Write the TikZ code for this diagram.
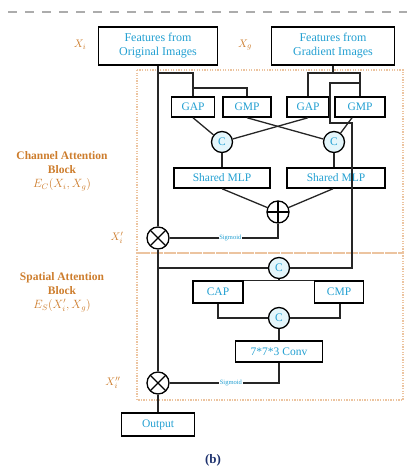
\documentclass[tikz,border=0pt]{standalone}
\usepackage{fontspec}
\setmainfont{Liberation Serif}
\definecolor{boxtext}{RGB}{35,160,210}
\definecolor{lbltext}{RGB}{205,125,45}
\definecolor{blockedge}{RGB}{236,196,160}
\definecolor{catfill}{RGB}{228,246,251}
\definecolor{subtext}{RGB}{30,50,110}
\tikzset{
  featbox/.style = {
    rectangle, draw=black, line width=1.5pt, fill=white,
    text=boxtext, font=\fontsize{12}{14}\selectfont, align=center,
    minimum height=38pt, inner sep=1pt
  },
  opbox/.style = {
    rectangle, draw=black, line width=1.5pt, fill=white,
    text=boxtext, font=\fontsize{11.5}{13}\selectfont,
    minimum height=20pt, inner sep=1pt
  },
  concat/.style = {
    circle, draw=black, line width=1.3pt, fill=catfill,
    text=boxtext, font=\fontsize{11.5}{13}\selectfont,
    minimum size=21pt, inner sep=0pt
  },
  addop/.style = {
    circle, draw=black, line width=1.3pt, fill=white, minimum size=22pt,
    path picture={\draw[line width=1.1pt]
      (path picture bounding box.north) -- (path picture bounding box.south)
      (path picture bounding box.west) -- (path picture bounding box.east);}
  },
  mulop/.style = {
    circle, draw=black, line width=1.3pt, fill=white, minimum size=22pt,
    path picture={\draw[line width=1.1pt]
      (path picture bounding box.north west) -- (path picture bounding box.south east)
      (path picture bounding box.north east) -- (path picture bounding box.south west);}
  },
  blocklbl/.style = {text=lbltext, font=\bfseries\fontsize{11.5}{14}\selectfont, align=center},
  varlbl/.style = {text=lbltext, font=\fontsize{11}{13}\selectfont},
  sig/.style = {fill=white, text=boxtext, font=\fontsize{6.5}{7}\selectfont, inner sep=0.6pt},
  link/.style = {line width=1.3pt, draw=black!85},
  blockline/.style = {draw=blockedge, line width=1.5pt, dash pattern=on 1.3pt off 1.3pt},
  topline/.style = {draw=gray!65, line width=1.6pt, dash pattern=on 9pt off 8pt}
}
\begin{document}
\begin{tikzpicture}[x=1pt, y=-1pt]
  \useasboundingbox (0,0) rectangle (407,470);
  \draw[topline] (8,12) -- (407,12);

  % attention blocks
  \draw[blockline] (137,70) rectangle (403,253);
  \draw[blockline] (137,253) rectangle (403,400);
  \node[blocklbl] (cab) at (62,171) {Channel Attention\\Block\\$E_C(X_i, X_g)$};
  \node[blocklbl] (sab) at (62,292) {Spatial Attention\\Block\\$E_S(X'_i, X_g)$};

  \node[featbox, minimum width=119pt] (orig) at (158,46) {Features from\\Original Images};
  \node[featbox, minimum width=123pt] (grad) at (333,46) {Features from\\Gradient Images};
  \node[varlbl] (xi)  at (80,45)  {$X_i$};
  \node[varlbl] (xg)  at (245,45) {$X_g$};

  \node[opbox, minimum width=43pt] (gap1) at (193,107) {GAP};
  \node[opbox, minimum width=48pt] (gmp1) at (247,107) {GMP};
  \node[opbox, minimum width=42pt] (gap2) at (308,107) {GAP};
  \node[opbox, minimum width=50pt] (gmp2) at (360,107) {GMP};
  \node[concat] (cat1) at (222,142) {C};
  \node[concat] (cat2) at (334,142) {C};
  \node[opbox, minimum width=96pt] (mlp1) at (222,178) {Shared MLP};
  \node[opbox, minimum width=98pt] (mlp2) at (336,178) {Shared MLP};
  \node[addop] (add)  at (278,212) {};
  \node[mulop] (mul1) at (158,238) {};
  \node[varlbl] (xi1) at (117,238) {$X'_i$};

  \node[concat] (cat3) at (279,268) {C};
  \node[opbox, minimum width=50pt, minimum height=22pt] (cap) at (218,292) {CAP};
  \node[opbox, minimum width=49pt, minimum height=22pt] (cmp) at (339,292) {CMP};
  \node[concat] (cat4) at (279,318) {C};
  \node[opbox, minimum width=87pt, minimum height=21pt] (conv) at (279,351.5) {7*7*3 Conv};
  \node[mulop] (mul2) at (158,383) {};
  \node[varlbl] (xi2) at (113,383) {$X''_i$};
  \node[opbox, minimum width=73pt, minimum height=23pt] (out) at (158,424.5) {Output};
  \node[font=\bfseries\fontsize{13}{15}\selectfont, text=subtext] (sub) at (213,460) {(b)};

  \coordinate (j1) at (158,73);
  \coordinate (j2) at (193,88);
  \coordinate (j3) at (333,73);
  \coordinate (j4) at (360,83);

  % channel attention
  \draw[link] (orig.south) -- (mul1.north);
  \draw[link] (j1) -| (gap1.north);
  \draw[link] (j2) -| (gmp1.north);
  \draw[link] (grad.south) -- (j3);
  \draw[link] (gap2.north) |- (j3) -| (gmp2.north);
  \draw[link] (gap1.south) -- (cat1);
  \draw[link] (gap2.south) -- (cat1);
  \draw[link] (gmp1.south) -- (cat2);
  \draw[link] ([xshift=-8pt]gmp2.south) -- (cat2);
  \draw[link] (cat1.south) -- (cat1.south |- mlp1.north);
  \draw[link] (cat2.south) -- (cat2.south |- mlp2.north);
  \draw[link] (mlp1.south) -- (add);
  \draw[link] ([xshift=-3pt]mlp2.south) -- (add);
  \draw[link] (add.south) |- node[sig, pos=0.72] {Sigmoid} (mul1.east);

  % gradient features round to the spatial block
  \draw[link] (j4) -- ++(-30,0) -- ++(0,40) -- ++(22,0) |- (cat3.east);

  % spatial attention
  \draw[link] (mul1.south) -- (mul2.north);
  \draw[link] (mul1.south |- cat3) -- (cat3.west);
  \draw[link] (cap.north east) -- (cmp.north west);
  \draw[link] (cat3.south) -- (cat3.south |- cap.north);
  \draw[link] (cap.south) |- (cat4.west);
  \draw[link] ([xshift=1pt]cmp.south) |- (cat4.east);
  \draw[link] (cat4.south) -- (conv.north);
  \draw[link] (conv.south) |- node[sig, pos=0.72] {Sigmoid} (mul2.east);
  \draw[link] (mul2.south) -- (out.north);
\end{tikzpicture}
\end{document}
